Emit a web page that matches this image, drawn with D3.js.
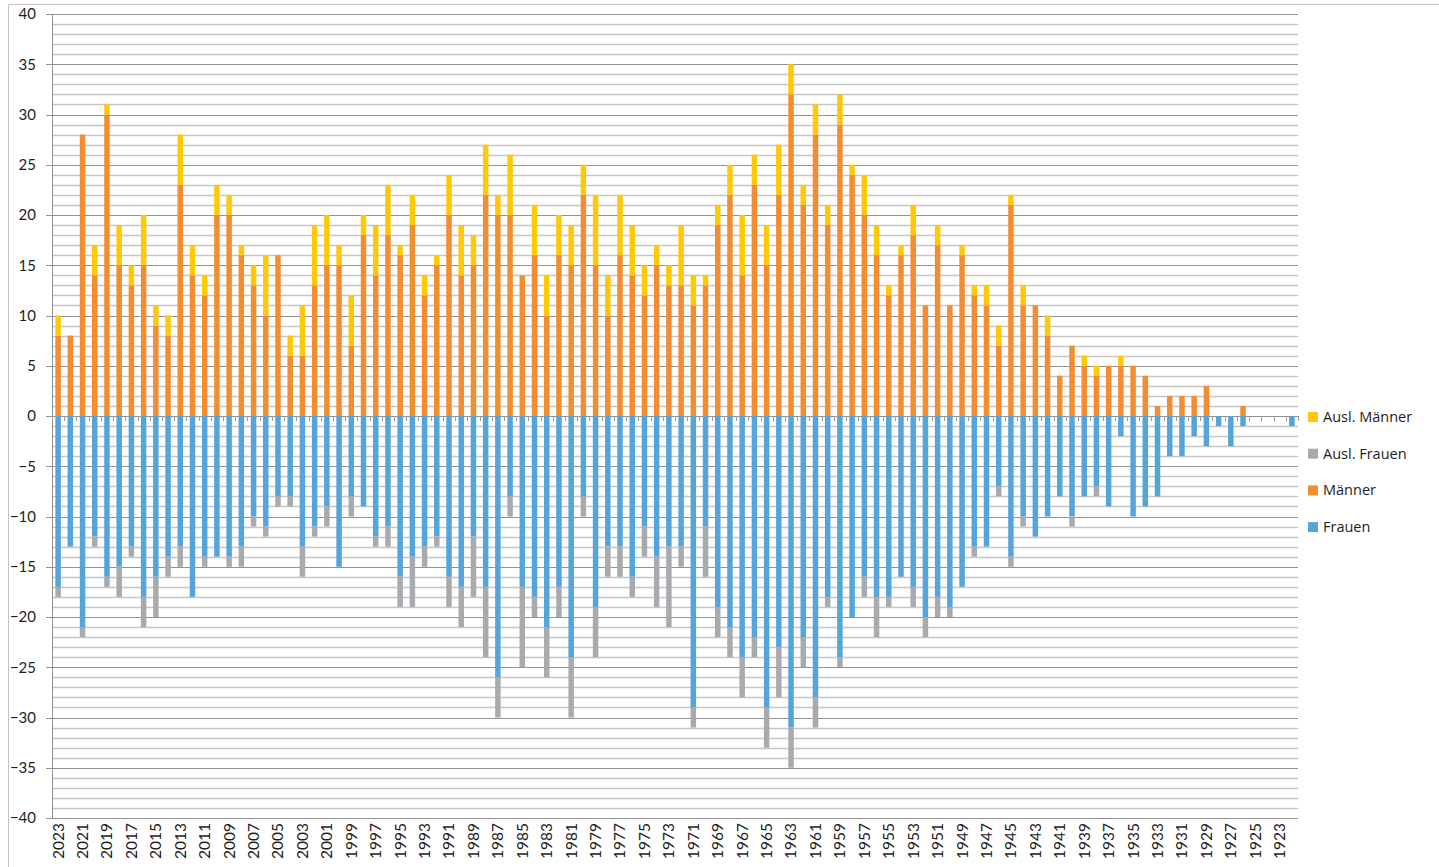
<!DOCTYPE html>
<html>
<head>
<meta charset="utf-8">
<script src="https://cdn.jsdelivr.net/npm/d3@7"></script>
<style>
  body { margin: 0; background: #fff; }
  svg text { font-family: Lato, "Open Sans", sans-serif; }
</style>
</head>
<body>
<div id="chart"></div>
<script>
// Jahrgänge, von 2023 absteigend bis 1922
const years = d3.range(2023, 1921, -1);

const maenner = [
  8, 8, 28, 14, 30, 15, 13, 15, 9, 8,
  23, 14, 12, 20, 20, 16, 13, 10, 16, 6,
  6, 13, 15, 15, 7, 18, 14, 18, 16, 19,
  12, 15, 20, 14, 15, 22, 20, 20, 14, 16,
  10, 16, 15, 22, 15, 10, 16, 14, 12, 15,
  13, 13, 11, 13, 19, 22, 14, 23, 15, 22,
  32, 21, 28, 19, 29, 24, 20, 16, 12, 16,
  18, 11, 17, 11, 16, 12, 11, 7, 21, 11,
  11, 8, 4, 7, 5, 4, 5, 5, 5, 4,
  1, 2, 2, 2, 3, 0, 0, 1, 0, 0,
  0, 0
];
const auslMaenner = [
  2, 0, 0, 3, 1, 4, 2, 5, 2, 2,
  5, 3, 2, 3, 2, 1, 2, 6, 0, 2,
  5, 6, 5, 2, 5, 2, 5, 5, 1, 3,
  2, 1, 4, 5, 3, 5, 2, 6, 0, 5,
  4, 4, 4, 3, 7, 4, 6, 5, 3, 2,
  2, 6, 3, 1, 2, 3, 6, 3, 4, 5,
  3, 2, 3, 2, 3, 1, 4, 3, 1, 1,
  3, 0, 2, 0, 1, 1, 2, 2, 1, 2,
  0, 2, 0, 0, 1, 1, 0, 1, 0, 0,
  0, 0, 0, 0, 0, 0, 0, 0, 0, 0,
  0, 0
];
const frauen = [
  17, 13, 21, 12, 16, 15, 13, 18, 16, 14,
  13, 18, 14, 14, 14, 13, 10, 11, 8, 8,
  13, 11, 9, 15, 8, 9, 12, 11, 16, 14,
  13, 12, 16, 17, 12, 17, 26, 8, 17, 18,
  21, 17, 24, 8, 19, 13, 13, 16, 11, 14,
  13, 13, 29, 11, 19, 21, 24, 22, 29, 23,
  31, 22, 28, 18, 24, 20, 16, 18, 18, 16,
  17, 20, 18, 19, 17, 13, 13, 7, 14, 10,
  12, 10, 8, 10, 8, 7, 9, 2, 10, 9,
  8, 4, 4, 2, 3, 1, 3, 1, 0, 0,
  0, 1
];
const auslFrauen = [
  1, 0, 1, 1, 1, 3, 1, 3, 4, 2,
  2, 0, 1, 0, 1, 2, 1, 1, 1, 1,
  3, 1, 2, 0, 2, 0, 1, 2, 3, 5,
  2, 1, 3, 4, 6, 7, 4, 2, 8, 2,
  5, 3, 6, 2, 5, 3, 3, 2, 3, 5,
  8, 2, 2, 5, 3, 3, 4, 2, 4, 5,
  4, 3, 3, 1, 1, 0, 2, 4, 1, 0,
  2, 2, 2, 1, 0, 1, 0, 1, 1, 1,
  0, 0, 0, 1, 0, 1, 0, 0, 0, 0,
  0, 0, 0, 0, 0, 0, 0, 0, 0, 0,
  0, 0
];
const yTicks = d3.range(-40, 41, 5);
const labelYears = years.filter(y => (2023 - y) % 2 === 0);

const keys = ["Männer", "Ausl. Männer", "Frauen", "Ausl. Frauen"];
const colors = {
  "Männer": "#f38d31",
  "Ausl. Männer": "#ffc908",
  "Frauen": "#56a5da",
  "Ausl. Frauen": "#a8aaae"
};
const legendOrder = ["Ausl. Männer", "Ausl. Frauen", "Männer", "Frauen"];

// Frauen nach unten, daher negativ
const rows = years.map((y, i) => ({
  year: y,
  "Männer": maenner[i],
  "Ausl. Männer": auslMaenner[i],
  "Frauen": -frauen[i],
  "Ausl. Frauen": -auslFrauen[i]
}));

const W = 1439, H = 867;
const plot = {left: 52, right: 1298, top: 14, bottom: 818};

const svg = d3.select("#chart").append("svg")
  .attr("width", W)
  .attr("height", H);

// outer frame (chart area is cropped)
svg.append("path")
  .attr("d", `M8.5,${H + 5}V4.5H${W + 5}`)
  .attr("fill", "none")
  .attr("stroke", "#c4c4c4");

const x = d3.scaleBand()
  .domain(years)
  .range([plot.left, plot.right])
  .paddingInner(0.55)
  .paddingOuter(0.275);

const y = d3.scaleLinear()
  .domain([-40, 40])
  .range([plot.bottom, plot.top]);

// Gridlines: every 1 light, every 5 darker
svg.append("g")
  .selectAll("line")
  .data(d3.range(-40, 41, 1).filter(v => v % 5 !== 0))
  .join("line")
  .attr("x1", plot.left).attr("x2", plot.right)
  .attr("y1", d => Math.round(y(d)) + 0.5)
  .attr("y2", d => Math.round(y(d)) + 0.5)
  .attr("stroke", "#c6c6c6")
  .attr("stroke-width", 1.3);

svg.append("g")
  .selectAll("line")
  .data(yTicks)
  .join("line")
  .attr("x1", plot.left - 6).attr("x2", plot.right)
  .attr("y1", d => Math.round(y(d)) + 0.5)
  .attr("y2", d => Math.round(y(d)) + 0.5)
  .attr("stroke", "#939393")
  .attr("stroke-width", 1.2);

// y axis line
svg.append("line")
  .attr("x1", plot.left + 0.5).attr("x2", plot.left + 0.5)
  .attr("y1", plot.top).attr("y2", plot.bottom)
  .attr("stroke", "#939393");

// Stacked bars
const series = d3.stack()
  .keys(keys)
  .offset(d3.stackOffsetDiverging)(rows);

svg.append("g")
  .selectAll("g")
  .data(series)
  .join("g")
  .attr("fill", d => colors[d.key])
  .selectAll("rect")
  .data(d => d)
  .join("rect")
  .attr("x", d => x(d.data.year))
  .attr("width", x.bandwidth())
  .attr("y", d => y(Math.max(d[0], d[1])))
  .attr("height", d => Math.abs(y(d[0]) - y(d[1])));

// category tick marks along zero line
const step = x.step();
svg.append("g")
  .selectAll("line")
  .data(years.concat([years[years.length - 1] - 1]))
  .join("line")
  .attr("x1", (d, i) => Math.round(plot.left + i * step) + 0.5)
  .attr("x2", (d, i) => Math.round(plot.left + i * step) + 0.5)
  .attr("y1", y(0))
  .attr("y2", y(0) + 5)
  .attr("stroke", "#9a9a9a");

// Y axis labels
const yAxis = svg.append("g")
  .attr("transform", `translate(${plot.left - 16},0)`)
  .call(d3.axisLeft(y).tickValues(yTicks).tickSize(0).tickPadding(0));
yAxis.select(".domain").remove();
yAxis.selectAll("text")
  .attr("font-size", 15)
  .attr("fill", "#1e1e1e")
  .style("font-family", "Lato, sans-serif");

// X axis labels (every second year)
const xAxis = svg.append("g")
  .attr("transform", `translate(0,${plot.bottom})`)
  .call(d3.axisBottom(x).tickValues(labelYears).tickSize(0).tickPadding(0));
xAxis.select(".domain").remove();
xAxis.selectAll("text")
  .attr("font-size", 15.5)
  .attr("fill", "#1e1e1e")
  .attr("text-anchor", "end")
  .attr("transform", "rotate(-90)")
  .attr("x", -5)
  .attr("y", 0)
  .attr("dy", "0.35em")
  .style("font-family", "Lato, sans-serif");

// Legend
const legend = svg.append("g")
  .attr("transform", "translate(1308,417)");
const item = legend.selectAll("g")
  .data(legendOrder)
  .join("g")
  .attr("transform", (d, i) => `translate(0,${i * 36.7})`);
item.append("rect")
  .attr("x", 0).attr("y", -5)
  .attr("width", 10).attr("height", 10)
  .attr("fill", d => colors[d]);
item.append("text")
  .attr("x", 15)
  .attr("dy", "0.35em")
  .attr("font-size", 14.5)
  .attr("fill", "#1e1e1e")
  .style("font-family", "'Open Sans', sans-serif")
  .text(d => d);
</script>
</body>
</html>
